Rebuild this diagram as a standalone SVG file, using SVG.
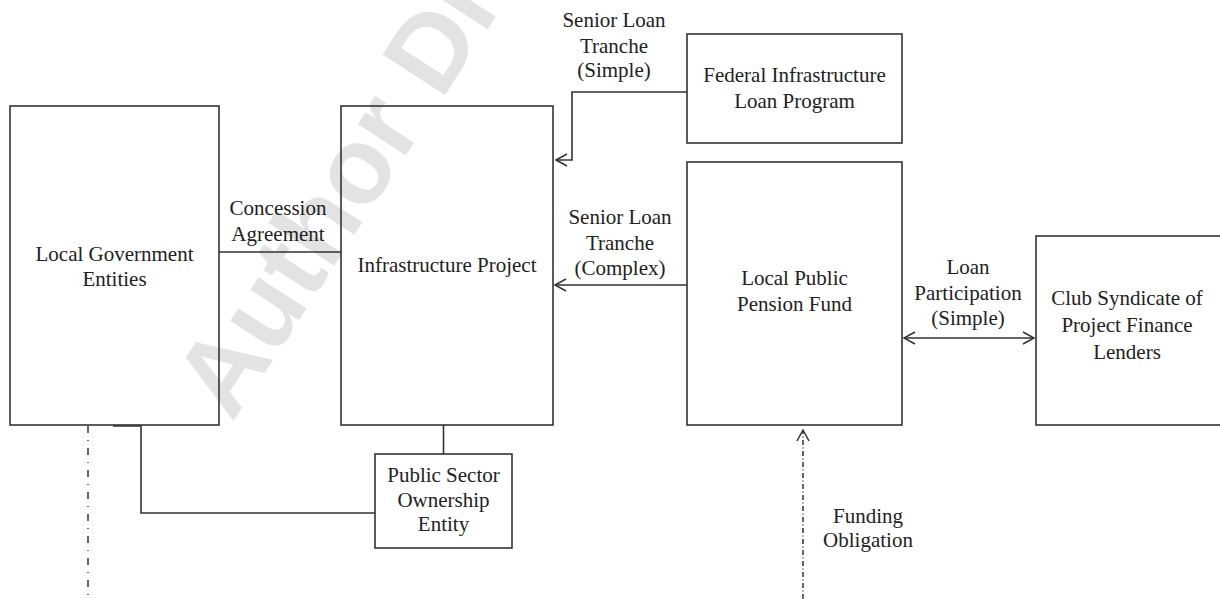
<svg xmlns="http://www.w3.org/2000/svg" width="1220" height="599" viewBox="0 0 1220 599">
  <style>
    .box { fill: none; stroke: #333; stroke-width: 1.6; }
    .line { fill: none; stroke: #333; stroke-width: 1.6; }
    .dashdot { fill: none; stroke: #333; stroke-width: 1.5; }
    .lbl { font-family: "Liberation Serif", "Times New Roman", serif; font-size: 21px; fill: #222; text-anchor: middle; }
    .mark { font-family: "Liberation Sans", Arial, sans-serif; font-weight: bold; font-size: 108px; fill: #e3e3e3; }
  </style>
  <defs>
    <marker id="open" markerUnits="userSpaceOnUse" orient="auto-start-reverse" overflow="visible" markerWidth="1" markerHeight="1" refX="0" refY="0">
      <path d="M-11,-6 L0,0 L-11,6" fill="none" stroke="#333" stroke-width="1.5"/>
    </marker>
  </defs>
  <rect width="1220" height="599" fill="#fff"/>

  <!-- faint background watermark -->
  <text class="mark" transform="translate(232,423) rotate(-57)">Author Dr</text>

  <g id="connectors">
    <!-- concession agreement -->
    <path class="line" d="M219,252 H341"/>
    <!-- senior loan tranche (simple) -->
    <path class="line" d="M687,92 H572 V160 H556" marker-end="url(#open)"/>
    <!-- senior loan tranche (complex) -->
    <path class="line" d="M687,285 H555" marker-end="url(#open)"/>
    <!-- loan participation -->
    <path class="line" d="M904,338 H1034" marker-start="url(#open)" marker-end="url(#open)"/>
    <!-- ownership links -->
    <path class="line" d="M443.5,425 V454"/>
    <path class="line" d="M375,513 H141 V426 H113"/>
    <!-- dash-dot lines -->
    <path class="dashdot" d="M88,426 V599" stroke-dasharray="7 7 1 7"/>
    <path class="dashdot" d="M803,599 V430" stroke-dasharray="5 2.5 1 2.5" marker-end="url(#open)"/>
  </g>

  <g id="connector-labels">
    <text class="lbl" x="278" y="215">Concession</text>
    <text class="lbl" x="278" y="241">Agreement</text>
    <text class="lbl" x="614" y="27">Senior Loan</text>
    <text class="lbl" x="614" y="53">Tranche</text>
    <text class="lbl" x="614" y="77">(Simple)</text>
    <text class="lbl" x="620" y="224">Senior Loan</text>
    <text class="lbl" x="620" y="250">Tranche</text>
    <text class="lbl" x="620" y="275">(Complex)</text>
    <text class="lbl" x="968" y="274">Loan</text>
    <text class="lbl" x="968" y="300">Participation</text>
    <text class="lbl" x="968" y="325">(Simple)</text>
    <text class="lbl" x="868" y="523">Funding</text>
    <text class="lbl" x="868" y="547">Obligation</text>
  </g>

  <g id="local-government">
    <rect class="box" x="10" y="106" width="209" height="319"/>
    <text class="lbl" x="114.5" y="261">Local Government</text>
    <text class="lbl" x="114.5" y="286">Entities</text>
  </g>

  <g id="infrastructure-project">
    <rect class="box" x="341" y="106" width="212" height="319"/>
    <text class="lbl" x="447" y="272">Infrastructure Project</text>
  </g>

  <g id="federal-loan-program">
    <rect class="box" x="687" y="34" width="215" height="109"/>
    <text class="lbl" x="794.5" y="82">Federal Infrastructure</text>
    <text class="lbl" x="794.5" y="108">Loan Program</text>
  </g>

  <g id="pension-fund">
    <rect class="box" x="687" y="162" width="215" height="263"/>
    <text class="lbl" x="794.5" y="285">Local Public</text>
    <text class="lbl" x="794.5" y="311">Pension Fund</text>
  </g>

  <g id="club-syndicate">
    <rect class="box" x="1036" y="236" width="200" height="189"/>
    <text class="lbl" x="1127" y="305">Club Syndicate of</text>
    <text class="lbl" x="1127" y="332">Project Finance</text>
    <text class="lbl" x="1127" y="359">Lenders</text>
  </g>

  <g id="ownership-entity">
    <rect class="box" x="375" y="454" width="137" height="94"/>
    <text class="lbl" x="443.5" y="482">Public Sector</text>
    <text class="lbl" x="443.5" y="507">Ownership</text>
    <text class="lbl" x="443.5" y="531">Entity</text>
  </g>
</svg>
